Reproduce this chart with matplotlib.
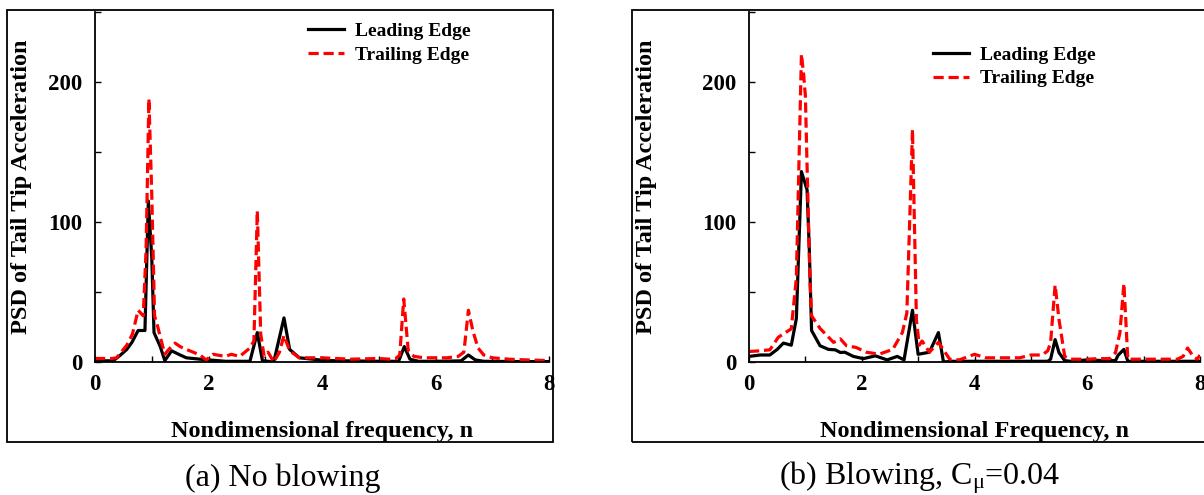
import matplotlib
matplotlib.use("Agg")
import matplotlib.pyplot as plt
from matplotlib.patches import Rectangle
from matplotlib.ticker import MultipleLocator

plt.rcParams["font.family"] = ["Liberation Serif", "DejaVu Serif"]
plt.rcParams["mathtext.fontset"] = "custom"
plt.rcParams["mathtext.rm"] = "Liberation Serif"
plt.rcParams["mathtext.it"] = "Liberation Serif:italic"

# (a) No blowing
a_le_n = [0, 0.32, 0.45, 0.56, 0.65, 0.76, 0.88, 0.94, 1.0, 1.04, 1.15, 1.23, 1.35,
          1.5, 1.61, 1.85, 2.0, 2.3, 2.73, 2.86, 2.95, 3.15, 3.33, 3.43, 3.6, 4.07,
          4.5, 5.0, 5.35, 5.45, 5.55, 5.7, 6.0, 6.45, 6.58, 6.7, 6.85, 7.5, 8.0]
a_le_psd = [1, 0.8, 5, 9, 14, 22.5, 22.5, 115, 75, 21, 11, 1, 8,
            5, 3, 2, 1.5, 0.5, 0.5, 21, 1, 0, 31.5, 9, 3, 1,
            0.8, 0.5, 0.5, 11, 2, 0.5, 0.5, 0.8, 5, 1.5, 0.5, 0.3, 0.3]

a_te_n = [0, 0.3, 0.38, 0.56, 0.66, 0.76, 0.85, 0.9, 0.95, 1.0, 1.05, 1.1, 1.15,
          1.23, 1.3, 1.41, 1.5, 1.61, 1.85, 1.96, 2.08, 2.3, 2.4, 2.55, 2.73, 2.8,
          2.86, 2.92, 2.98, 3.05, 3.15, 3.25, 3.33, 3.43, 3.6, 4.0, 4.5, 5.0, 5.2,
          5.3, 5.37, 5.44, 5.52, 5.62, 5.8, 6.2, 6.4, 6.5, 6.58, 6.66, 6.75, 6.85,
          7.0, 7.3, 7.6, 8.0]
a_te_psd = [2.5, 2.5, 3, 12, 20, 37, 33, 80, 188, 120, 33, 26, 18,
            5.5, 9, 13.5, 11, 9, 5, 1.5, 5.5, 4, 5.5, 4, 10, 15,
            108, 20, 4, 7, 0, 7, 19, 8, 3, 3, 2, 2.5, 2,
            2.5, 5, 45, 8, 4, 3, 3, 4, 7, 37, 22, 10, 5,
            3, 2, 1.5, 1]

# (b) Blowing, C_mu = 0.04
b_le_n = [0, 0.2, 0.37, 0.5, 0.61, 0.75, 0.84, 0.93, 1.03, 1.07, 1.11, 1.26, 1.41,
          1.53, 1.62, 1.7, 1.85, 2.03, 2.24, 2.45, 2.63, 2.75, 2.9, 3.0, 3.2, 3.36,
          3.45, 3.6, 4.5, 5.3, 5.35, 5.43, 5.5, 5.6, 5.7, 6.0, 6.3, 6.5, 6.55, 6.65,
          6.72, 7.0, 8.0]
b_le_psd = [4, 5, 5, 9, 13.5, 12, 31, 136, 123, 80, 22.5, 11.6, 9,
            8.7, 6.8, 7, 4, 2.4, 4.4, 1.5, 4, 1.5, 37, 5.5, 7, 21,
            0, 0.5, 0.5, 0.5, 2, 16, 6.6, 1, 0.5, 1.5, 1, 1, 5, 9,
            0.5, 0.5, 0.5]

b_te_n = [0, 0.2, 0.37, 0.52, 0.75, 0.84, 0.93, 0.97, 1.0, 1.03, 1.08, 1.11, 1.26,
          1.5, 1.62, 1.73, 1.9, 2.08, 2.31, 2.55, 2.72, 2.8, 2.9, 2.97, 3.02, 3.07,
          3.2, 3.36, 3.56, 3.73, 4.0, 4.2, 4.8, 5.0, 5.2, 5.3, 5.35, 5.43, 5.5,
          5.6, 5.7, 6.0, 6.2, 6.4, 6.5, 6.58, 6.65, 6.72, 7.0, 7.6, 7.7, 7.78,
          7.88, 7.95, 8.0]
b_te_psd = [7.5, 8, 8.7, 17.7, 23.7, 60, 220, 205, 190, 140, 60, 33, 24,
            14, 16.5, 11.6, 10.4, 7, 5.6, 9, 21, 35, 166, 30, 12, 15,
            7, 14, 2, 1.5, 5.5, 3, 3, 5, 5, 8, 14, 55, 30,
            4, 2, 2, 2.4, 2.4, 6.6, 21, 56, 2, 2, 2, 4, 10,
            4, 2, 5]

panels = [
    dict(le=(a_le_n, a_le_psd), te=(a_te_n, a_te_psd),
         xlabel="Nondimensional frequency, n", caption="(a) No blowing",
         rect=[95 / 1204, 133 / 495, 454 / 1204, 350 / 495],
         box=(7, 553), ylab_x=-0.162, leg=(0.469, 0.97), cap_x=283),
    dict(le=(b_le_n, b_le_psd), te=(b_te_n, b_te_psd),
         xlabel="Nondimensional Frequency, n",
         caption="(b) Blowing, C$_{\\mathrm{\u03bc}}$=0.04",
         rect=[749 / 1204, 133 / 495, 451 / 1204, 350 / 495],
         box=(632, 1214), ylab_x=-0.228, leg=(0.408, 0.902), cap_x=920),
]

fig = plt.figure(figsize=(12.04, 4.95), dpi=100)

for p in panels:
    # outer frame around each panel
    x0, x1 = p["box"]
    fig.add_artist(Rectangle((x0 / 1204, 53 / 495), (x1 - x0) / 1204, 432 / 495,
                             transform=fig.transFigure, fill=False,
                             edgecolor="black", linewidth=1.3, clip_on=False))

    ax = fig.add_axes(p["rect"])
    ax.plot(*p["le"], color="black", linewidth=2.3, label="Leading Edge")
    ax.plot(*p["te"], color="#ff0000", linewidth=2.3, linestyle=(0, (3.2, 1.5)),
            label="Trailing Edge")

    ax.set_xlim(0, 8)
    ax.set_ylim(0, 250)
    ax.xaxis.set_major_locator(MultipleLocator(2))
    ax.xaxis.set_minor_locator(MultipleLocator(1))
    ax.set_yticks([0, 100, 200])
    ax.yaxis.set_minor_locator(MultipleLocator(50))
    ax.tick_params(which="both", direction="in", length=4, width=1.0,
                   labelsize=16.5, pad=9)
    for lab in ax.get_xticklabels() + ax.get_yticklabels():
        lab.set_fontweight("bold")

    for side in ("top", "right"):
        ax.spines[side].set_visible(False)
    for side in ("left", "bottom"):
        ax.spines[side].set_linewidth(1.3)

    ax.set_ylabel("PSD of Tail Tip Acceleration", fontsize=17.5, fontweight="bold")
    ax.yaxis.set_label_coords(p["ylab_x"], 0.5)
    ax.yaxis.label.set_verticalalignment("center")
    ax.set_xlabel(p["xlabel"], fontsize=17.5, fontweight="bold")
    ax.xaxis.set_label_coords(0.5, -0.2)
    ax.xaxis.label.set_verticalalignment("center")

    ax.legend(loc="upper left", bbox_to_anchor=p["leg"], frameon=False,
              prop={"size": 14, "weight": "bold"}, handlelength=1.85,
              handletextpad=0.57, labelspacing=0.3, borderpad=0,
              borderaxespad=0)

    fig.text(p["cap_x"] / 1204, 17 / 495, p["caption"], fontsize=23,
             ha="center", va="center")

fig.savefig("out.png", dpi=100)
